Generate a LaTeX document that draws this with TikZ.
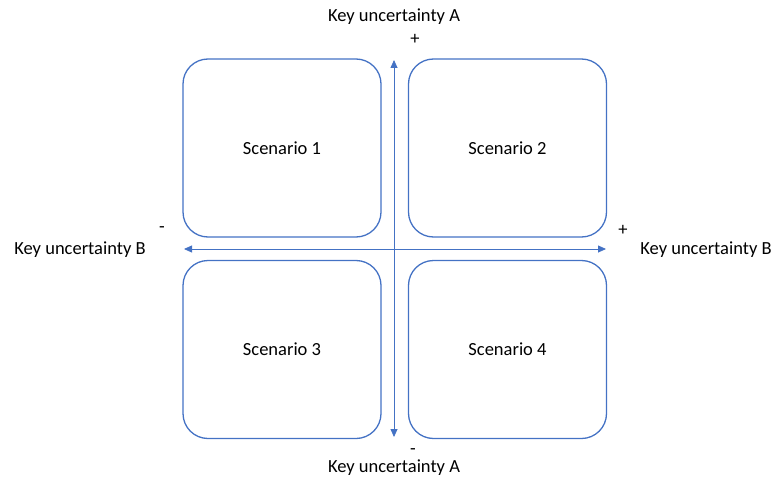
\documentclass[tikz,border=0pt]{standalone}
\usepackage{fontspec}
\setmainfont{Carlito}
\usetikzlibrary{arrows.meta}
\definecolor{accent}{RGB}{68,114,196}
\begin{document}
\begin{tikzpicture}[x=1pt,y=-1pt,
  scen/.style={draw=accent,line width=1.3pt,rounded corners=25pt,minimum width=198pt,minimum height=178pt,inner sep=0pt,font=\fontsize{18.5}{22}\selectfont},
  lbl/.style={font=\fontsize{18.5}{22}\selectfont,inner sep=0pt},
  sign/.style={font=\fontsize{18.5}{22}\selectfont,inner sep=0pt},
  axis/.style={draw=accent,line width=0.8pt,-{Triangle[length=8pt,width=7pt]}}]
\useasboundingbox (0,0) rectangle (775,481);
% four scenario boxes
\node[scen] (s1) at (282,148) {Scenario 1};
\node[scen] (s2) at (507.5,148) {Scenario 2};
\node[scen] (s3) at (282,349.5) {Scenario 3};
\node[scen] (s4) at (507.5,349.5) {Scenario 4};
% axis end points
\coordinate (atop) at (394,60);
\coordinate (abot) at (394,437);
\coordinate (bleft) at (184,249);
\coordinate (bright) at (606,249);
\coordinate (ctr) at (394,249);
\draw[axis] (ctr) -- (atop);
\draw[axis] (ctr) -- (abot);
\draw[axis] (ctr) -- (bleft);
\draw[axis] (ctr) -- (bright);
% axis labels
\node[lbl] (ka1) at (394,17) {Key uncertainty A};
\node[sign] (pa) at (415,39) {+};
\node[sign] (ma) at (413,452) {-};
\node[lbl] (ka2) at (394,468) {Key uncertainty A};
\node[lbl] (kb1) at (80,250) {Key uncertainty B};
\node[sign] (mb) at (162,230) {-};
\node[sign] (pb) at (623,230) {+};
\node[lbl] (kb2) at (706,250) {Key uncertainty B};
\end{tikzpicture}
\end{document}
